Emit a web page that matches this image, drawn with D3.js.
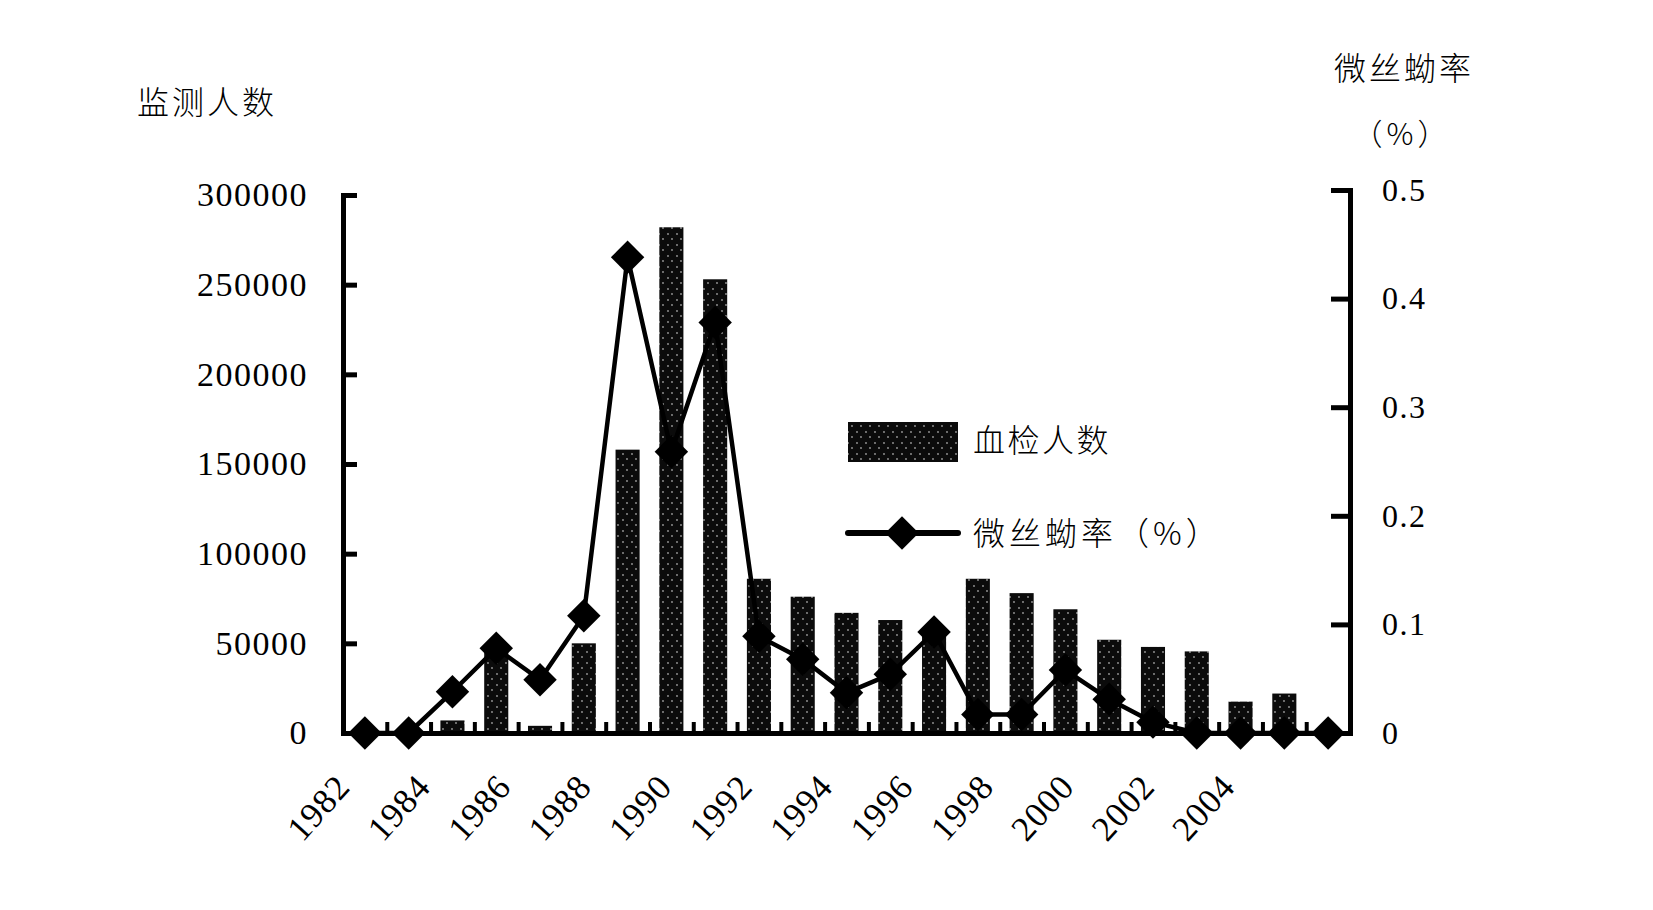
<!DOCTYPE html>
<html>
<head>
<meta charset="utf-8">
<script src="https://cdn.jsdelivr.net/npm/d3@7/dist/d3.min.js"></script>
<style>
  body { margin: 0; background: #fff; }
</style>
</head>
<body>
<div id="chart"></div>
<script>
/* Data. */
const years = ["1982", "1983", "1984", "1985", "1986", "1987", "1988", "1989", "1990", "1991", "1992", "1993",
  "1994", "1995", "1996", "1997", "1998", "1999", "2000", "2001", "2002", "2003", "2004"]
const examined = [0, 0, 7000, 45000, 4000, 50000, 158000, 282000, 253000, 86000, 76000, 67000,
  63000, 58000, 86000, 78000, 69000, 52000, 48000, 45500, 17500, 22000, 0]
const mfRate = [0, 0, 0.038, 0.078, 0.049, 0.108, 0.438, 0.259, 0.378, 0.089, 0.068, 0.037,
  0.054, 0.093, 0.017, 0.017, 0.058, 0.031, 0.010, 0, 0, 0, 0]
const countTicks = [0, 50000, 100000, 150000, 200000, 250000, 300000]
const rateTicks = [0, 0.1, 0.2, 0.3, 0.4, 0.5]
const yearLabels = ["1982", "1984", "1986", "1988", "1990", "1992", "1994", "1996", "1998", "2000", "2002", "2004"]

/* Define svg-size. */
const width = 1653
const height = 910
const plot = { left: 343, right: 1350, top: 195, bottom: 733 }

const numFont = "'Liberation Serif', 'Times New Roman', serif"
const cjkFont = "'Noto Sans CJK SC', sans-serif"

const svg = d3.select("#chart")
  .append("svg")
  .attr("width", width)
  .attr("height", height)

svg.append("rect").attr("width", width).attr("height", height).attr("fill", "#fff")

/* Speckled fill for the bars. */
const defs = svg.append("defs")
const pattern = defs.append("pattern")
  .attr("id", "speckle")
  .attr("patternUnits", "userSpaceOnUse")
  .attr("width", 9)
  .attr("height", 11)
pattern.append("rect").attr("width", 9).attr("height", 11).attr("fill", "#0b0b0b")
pattern.selectAll("circle")
  .data([[2, 3], [6, 8]])
  .enter()
  .append("circle")
  .attr("cx", d => d[0])
  .attr("cy", d => d[1])
  .attr("r", 0.9)
  .attr("fill", "#9a9a9a")

/* Scales. */
const x = d3.scaleBand()
  .domain(years)
  .range([plot.left, plot.right])
  .paddingInner(0.45)
  .paddingOuter(0.225)

const yCount = d3.scaleLinear()
  .domain([0, 300000])
  .range([plot.bottom, plot.top])

const yRate = d3.scaleLinear()
  .domain([0, 0.5])
  .range([plot.bottom, 190])

/* Bars. */
svg.append("g")
  .selectAll("rect")
  .data(years)
  .enter()
  .append("rect")
  .attr("x", d => x(d))
  .attr("width", x.bandwidth())
  .attr("y", (d, i) => yCount(examined[i]))
  .attr("height", (d, i) => plot.bottom - yCount(examined[i]))
  .attr("fill", "url(#speckle)")

/* Left axis. */
const leftAxis = svg.append("g")
  .attr("transform", `translate(${plot.left},0)`)
  .call(d3.axisLeft(yCount).tickValues(countTicks).tickFormat(d3.format("d"))
    .tickSizeInner(-14).tickSizeOuter(0).tickPadding(35))

/* Right axis. */
const rightAxis = svg.append("g")
  .attr("transform", `translate(${plot.right},0)`)
  .call(d3.axisRight(yRate).tickValues(rateTicks).tickFormat(d => d === 0 ? "0" : d3.format(".1f")(d))
    .tickSizeInner(-19).tickSizeOuter(0).tickPadding(32))

/* Bottom axis with small inward ticks between categories. */
const xIndex = d3.scaleLinear().domain([0, years.length]).range([plot.left, plot.right])
const bottomAxis = svg.append("g")
  .attr("transform", `translate(0,${plot.bottom})`)
  .call(d3.axisBottom(xIndex).tickValues(d3.range(1, years.length)).tickFormat("")
    .tickSizeInner(-11).tickSizeOuter(0))

;[leftAxis, rightAxis, bottomAxis].forEach(g => {
  g.select(".domain").attr("stroke", "#000").attr("stroke-width", 5).attr("stroke-linecap", "square")
  g.selectAll(".tick line").attr("stroke", "#000").attr("stroke-width", 5)
  g.selectAll("text")
    .attr("fill", "#000")
    .attr("font-family", numFont)
    .attr("font-size", 34)
    .attr("letter-spacing", 1.5)
})
rightAxis.selectAll("text").attr("font-size", 32)
bottomAxis.selectAll(".tick line").attr("stroke-width", 4)

/* Rate line with diamonds. */
const line = d3.line()
  .x((d, i) => x(years[i]) + x.bandwidth() / 2)
  .y(d => yRate(d))

svg.append("path")
  .datum(mfRate)
  .attr("d", line)
  .attr("fill", "none")
  .attr("stroke", "#000")
  .attr("stroke-width", 4.5)
  .attr("stroke-linejoin", "round")

const diamond = d3.symbol().type(d3.symbolSquare).size(560)
svg.append("g")
  .selectAll("path")
  .data(mfRate)
  .enter()
  .append("path")
  .attr("d", diamond)
  .attr("transform", (d, i) => `translate(${x(years[i]) + x.bandwidth() / 2},${yRate(d)}) rotate(45)`)
  .attr("fill", "#000")

/* Year labels, rotated. */
const labelX = d3.scalePoint()
  .domain(yearLabels)
  .range([352, 1237])

svg.append("g")
  .selectAll("text")
  .data(yearLabels)
  .enter()
  .append("text")
  .attr("transform", d => `translate(${labelX(d)},788) rotate(-48)`)
  .attr("text-anchor", "end")
  .attr("font-family", numFont)
  .attr("font-size", 35)
  .attr("letter-spacing", 1)
  .text(d => d)

/* Axis titles. */
svg.append("text")
  .attr("x", 137)
  .attr("y", 114)
  .attr("font-family", cjkFont)
  .attr("font-weight", 300)
  .attr("font-size", 32)
  .attr("letter-spacing", 3)
  .text("监测人数")

svg.append("text")
  .attr("x", 1334)
  .attr("y", 80)
  .attr("font-family", cjkFont)
  .attr("font-weight", 300)
  .attr("font-size", 32)
  .attr("letter-spacing", 3)
  .text("微丝蚴率")

svg.append("text")
  .attr("x", 1402)
  .attr("y", 145)
  .attr("text-anchor", "middle")
  .attr("font-family", cjkFont)
  .attr("font-weight", 300)
  .attr("font-size", 30)
  .attr("letter-spacing", 4)
  .text("（%）")

/* Legend. */
const legend = svg.append("g")

legend.append("rect")
  .attr("x", 848)
  .attr("y", 422)
  .attr("width", 110)
  .attr("height", 40)
  .attr("fill", "url(#speckle)")

legend.append("line")
  .attr("x1", 848)
  .attr("x2", 958)
  .attr("y1", 533)
  .attr("y2", 533)
  .attr("stroke", "#000")
  .attr("stroke-width", 6)
  .attr("stroke-linecap", "round")

legend.append("path")
  .attr("d", diamond)
  .attr("transform", "translate(902,533) rotate(45)")
  .attr("fill", "#000")

legend.selectAll("text")
  .data(["血检人数", "微丝蚴率（%）"])
  .enter()
  .append("text")
  .attr("x", 973)
  .attr("y", (d, i) => [440, 533][i])
  .attr("dy", "0.36em")
  .attr("font-family", cjkFont)
  .attr("font-weight", 300)
  .attr("font-size", 32)
  .attr("letter-spacing", (d, i) => [2.5, 4][i])
  .text(d => d)
</script>
</body>
</html>
